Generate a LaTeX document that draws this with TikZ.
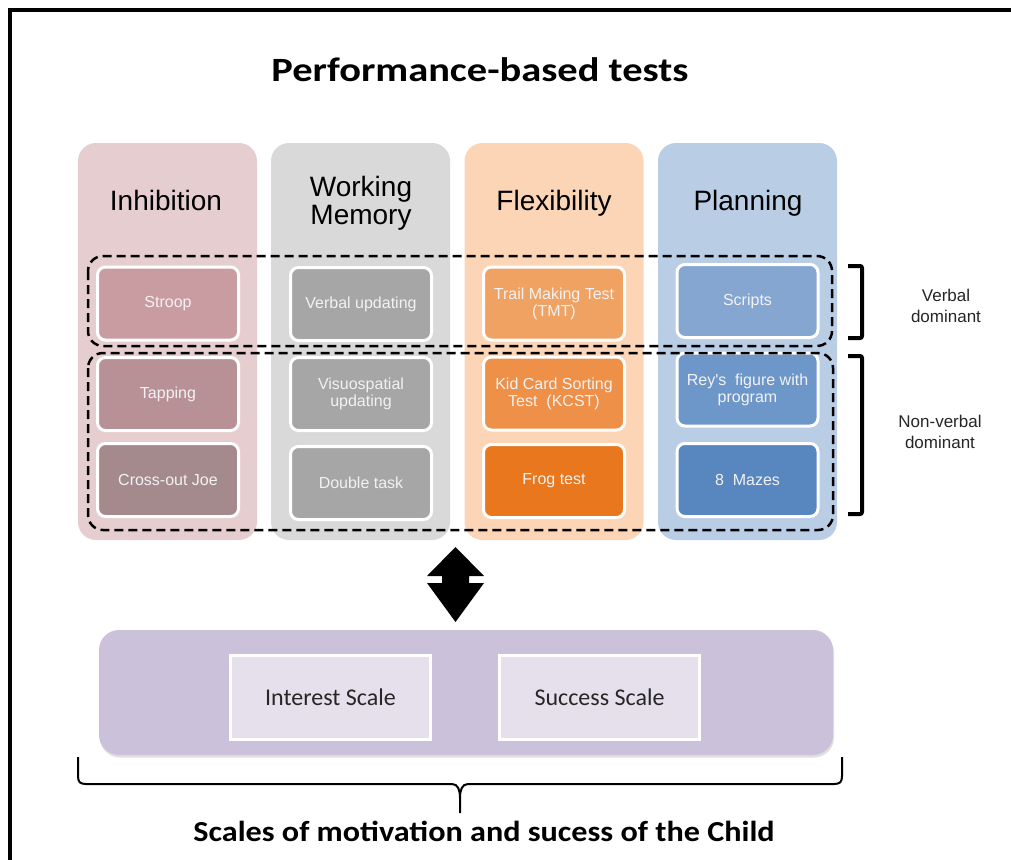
\documentclass[tikz,border=0pt]{standalone}
\usepackage{fontspec}
\setmainfont{Liberation Sans}
\newfontfamily\plainsans[Ligatures=TeXOff]{Liberation Sans}
\newfontfamily\calib{Carlito}
\usetikzlibrary{shadows}
\definecolor{cInhib}{HTML}{E6CED0}
\definecolor{cWM}{HTML}{D9D9D9}
\definecolor{cFlex}{HTML}{FBD5B5}
\definecolor{cPlan}{HTML}{B9CDE5}
\definecolor{tStroop}{HTML}{C99CA2}
\definecolor{tTap}{HTML}{B79196}
\definecolor{tCross}{HTML}{A48A8D}
\definecolor{tWM}{HTML}{A6A6A6}
\definecolor{tTMT}{HTML}{F0A262}
\definecolor{tKCST}{HTML}{EE9048}
\definecolor{tFrog}{HTML}{E8771E}
\definecolor{tScr}{HTML}{84A6D1}
\definecolor{tRey}{HTML}{6D97C9}
\definecolor{tMaz}{HTML}{5886BF}
\definecolor{cPurp}{HTML}{CCC1DA}
\definecolor{cPurpIn}{HTML}{E5E0EC}
\definecolor{txtdark}{HTML}{262626}
\begin{document}
\begin{tikzpicture}[x=1pt,y=-1pt,
  colbox/.style={rounded corners=18pt, minimum width=179pt, minimum height=397pt, inner sep=0pt},
  header/.style={font=\fontsize{28}{28}\selectfont, align=center, text=black, anchor=base, inner sep=0pt},
  testbox/.style={draw=white, line width=3pt, rounded corners=8pt, minimum width=141pt, minimum height=73pt, text=white!95!black, font=\fontsize{16}{17}\selectfont, align=center, inner sep=1pt},
  dashbox/.style={draw=black, line width=2.5pt, dash pattern=on 9pt off 5pt, rounded corners=15pt},
  bracket/.style={draw=black, line width=4pt, rounded corners=2pt},
  sidelabel/.style={font=\fontsize{17}{21}\selectfont, align=center, text=txtdark},
  scalebox/.style={draw=white, line width=3pt, fill=cPurpIn, minimum width=200pt, minimum height=84pt, font=\calib\fontsize{24}{26}\selectfont, text=txtdark},
  bigtitle/.style={font=\calib\bfseries\fontsize{34}{36}\selectfont, text=black}
]
\useasboundingbox (0,0) rectangle (1011,859);
\fill[white] (0,0) rectangle (1011,859);
\draw[line width=4pt] (10,1000) -- (10,10) -- (1100,10);

\node[bigtitle] (title) at (480,70) {\scalebox{1.19}[1]{Performance-based tests}};

% columns
\node[colbox, fill=cInhib] (colI) at (167.5,341.5) {};
\node[colbox, fill=cWM] (colW) at (360.5,341.5) {};
\node[colbox, fill=cFlex] (colF) at (554,341.5) {};
\node[colbox, fill=cPlan] (colP) at (747.5,341.5) {};

\node[header] (hI) at (166,210) {Inhibition};
\node[header] (hW1) at (361,196) {Working};
\node[header] (hW2) at (361,224) {Memory};
\node[header] (hF) at (554,210) {Flexibility};
\node[header] (hP) at (748,210) {Planning};

% tests
\node[testbox, fill=tStroop] (stroop) at (168,303.5) {Stroop};
\node[testbox, fill=tTap] (tap) at (168,394) {Tapping};
\node[testbox, fill=tCross] (cross) at (168,480) {Cross-out Joe};

\node[testbox, fill=tWM] (verb) at (361,304) {Verbal updating};
\node[testbox, fill=tWM] (visu) at (361,394) {Visuospatial\\updating};
\node[testbox, fill=tWM] (dbl) at (361,483) {Double task};

\node[testbox, fill=tTMT] (tmt) at (554,303.5) {Trail Making Test\\(TMT)};
\node[testbox, fill=tKCST] (kcst) at (554,393.5) {Kid Card Sorting\\Test\ \ (KCST)};
\node[testbox, fill=tFrog] (frog) at (554,481) {Frog test};

\node[testbox, fill=tScr] (scr) at (747.5,301) {Scripts};
\node[testbox, fill=tRey, font=\plainsans\fontsize{16}{17}\selectfont] (rey) at (747.5,389.5) {Rey's\ \ figure with\\program};
\node[testbox, fill=tMaz] (maz) at (747.5,480) {8\ \ Mazes};

% dashed groups
\draw[dashbox] (88,256) rectangle (832,346);
\draw[dashbox] (88,353) rectangle (833,530);

% brackets
\draw[bracket] (848,266) -- (862,266) -- (862,338) -- (848,338);
\draw[bracket] (848,356) -- (862,356) -- (862,514) -- (848,514);
\node[sidelabel] (verbal) at (946,306) {Verbal\\dominant};
\node[sidelabel] (nonverbal) at (940,432) {Non-verbal\\dominant};

% double arrow
\fill[black] (455.5,547) -- (484,576) -- (469,576) -- (469,583) -- (484,583) -- (455.5,622)
  -- (427,583) -- (442,583) -- (442,576) -- (427,576) -- cycle;

% bottom box
\node[rounded corners=20pt, fill=cPurp, minimum width=734pt, minimum height=125pt,
  drop shadow={opacity=0.25, shadow xshift=1pt, shadow yshift=-2.5pt}] (scales) at (466,692.5) {};
\node[scalebox] (interest) at (330.5,697.5) {Interest Scale};
\node[scalebox] (success) at (599.5,697.5) {Success Scale};

% brace
\draw[line width=2pt] (78,757) -- (78,776) .. controls (78,782) and (80,784) .. (86,784)
  -- (452,784) .. controls (458,784) and (460,790) .. (460,798) -- (460,813);
\draw[line width=2pt] (842,757) -- (842,776) .. controls (842,782) and (840,784) .. (834,784)
  -- (468,784) .. controls (462,784) and (460,790) .. (460,798);

\node[bigtitle, font=\calib\bfseries\fontsize{29}{31}\selectfont] (bottomtitle) at (484,831) {\scalebox{1.11}[1]{Scales of motivation and sucess of the Child}};
\end{tikzpicture}
\end{document}
